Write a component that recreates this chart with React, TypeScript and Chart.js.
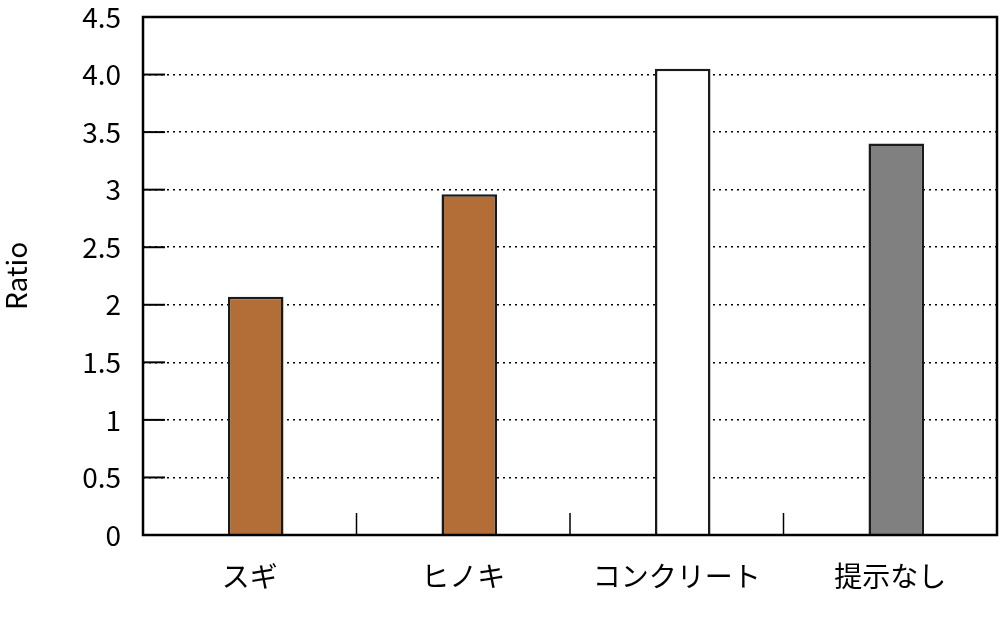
import { useEffect, useRef } from 'react'
import { Chart, registerables } from 'chart.js'

Chart.register(...registerables)

const categories = ['スギ', 'ヒノキ', 'コンクリート', '提示なし']
const ratios = [2.07, 2.96, 4.05, 3.4]
const barColors = ['#b36e38', '#b36e38', '#ffffff', '#808080']
const tickValues = [0, 0.5, 1, 1.5, 2, 2.5, 3, 3.5, 4, 4.5]
const tickLabels = ['0', '0.5', '1', '1.5', '2', '2.5', '3', '3.5', '4.0', '4.5']

const FONT = '"Noto Sans CJK JP", "Noto Sans", sans-serif'
const BAR_SHIFT = 6

// bars sit a little right of the category centre in the original
const shiftPlugin = {
  id: 'shift',
  beforeDatasetsDraw(chart: any) {
    chart.ctx.save()
    chart.ctx.translate(BAR_SHIFT, 0)
  },
  afterDatasetsDraw(chart: any) {
    chart.ctx.restore()
  },
}

// frame, inner y ticks and category separators
const framePlugin = {
  id: 'frame',
  afterDatasetsDraw(chart: any) {
    const { ctx, chartArea: a, scales } = chart
    const y = scales.y
    const x = scales.x
    ctx.save()
    ctx.strokeStyle = '#000'
    ctx.lineWidth = 2
    tickValues.forEach((v) => {
      const py = y.getPixelForValue(v)
      ctx.beginPath()
      ctx.moveTo(a.left, py)
      ctx.lineTo(a.left + 22, py)
      ctx.stroke()
    })
    ctx.lineWidth = 1.5
    for (let i = 1; i < categories.length; i++) {
      const px = (x.getPixelForValue(i - 1) + x.getPixelForValue(i)) / 2
      ctx.beginPath()
      ctx.moveTo(px, a.bottom)
      ctx.lineTo(px, a.bottom - 22)
      ctx.stroke()
    }
    ctx.lineWidth = 2.5
    ctx.strokeRect(a.left, a.top, a.right - a.left, a.bottom - a.top)
    ctx.restore()
  },
}

export default function App() {
  const canvasRef = useRef<HTMLCanvasElement>(null)
  const chartRef = useRef<Chart | null>(null)

  useEffect(() => {
    if (!canvasRef.current) return
    if (chartRef.current) chartRef.current.destroy()

    chartRef.current = new Chart(canvasRef.current, {
      type: 'bar',
      data: {
        labels: categories,
        datasets: [
          {
            data: ratios,
            backgroundColor: barColors,
            borderColor: '#1a1a1a',
            borderWidth: 2.5,
            barPercentage: 0.26,
            categoryPercentage: 1,
          },
        ],
      },
      options: {
        animation: false,
        responsive: true,
        maintainAspectRatio: false,
        layout: { padding: { top: 1, right: 3, bottom: 0, left: 0 } },
        plugins: {
          legend: { display: false },
          tooltip: { enabled: false },
        },
        scales: {
          x: {
            grid: { display: false, drawTicks: false },
            border: { display: false },
            ticks: {
              color: '#000',
              padding: 25,
              font: { family: FONT, size: 28 },
            },
            afterFit(scale: any) {
              scale.height = 84
            },
          },
          y: {
            min: 0,
            max: 4.5,
            afterBuildTicks(scale: any) {
              scale.ticks = tickValues.map((v) => ({ value: v }))
            },
            grid: {
              color: '#000',
              lineWidth: 1.6,
              drawTicks: false,
            },
            border: { display: false, dash: [2, 4] },
            ticks: {
              color: '#000',
              padding: 22,
              font: { family: FONT, size: 28 },
              callback: (_v: any, i: number) => tickLabels[i],
            },
            title: {
              display: true,
              text: 'Ratio',
              color: '#000',
              font: { family: FONT, size: 28 },
              padding: { top: 0, bottom: 0 },
            },
            afterFit(scale: any) {
              scale.width = 143
              scale.paddingTop = 17
              scale.paddingBottom = 17
            },
          },
        },
      },
      plugins: [shiftPlugin, framePlugin],
    })

    return () => {
      if (chartRef.current) {
        chartRef.current.destroy()
        chartRef.current = null
      }
    }
  }, [])

  return (
    <div style={{ position: 'fixed', left: 0, top: 0, width: 1000, height: 619, background: '#fff' }}>
      <canvas ref={canvasRef} />
    </div>
  )
}
